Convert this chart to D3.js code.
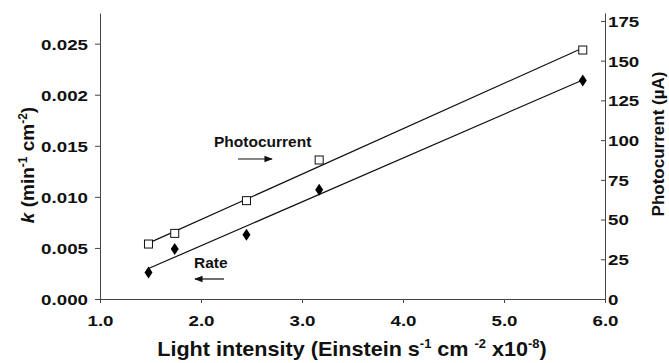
<!DOCTYPE html>
<html>
<head>
<meta charset="utf-8">
<script src="https://cdn.jsdelivr.net/npm/d3@7"></script>
<style>
  body { margin: 0; background: #fff; }
  text { font-family: "Liberation Sans", Arial, sans-serif; font-weight: bold; fill: #111; }
</style>
</head>
<body>
<svg id="chart"></svg>
<script>
// data
var intensity = [1.48, 1.74, 2.45, 3.17, 5.78];
var rate = [0.0026, 0.0049, 0.0063, 0.0107, 0.0214];
var photocurrent = [34.6, 41.3, 61.9, 87.5, 156.7];
var xTicks = [1, 2, 3, 4, 5, 6];
var leftTicks = [0, 0.005, 0.010, 0.015, 0.020, 0.025];
var leftTickLabels = ["0.000", "0.005", "0.010", "0.015", "0.002", "0.025"];
var rightTicks = [0, 25, 50, 75, 100, 125, 150, 175];

var W = 669, H = 363;
var margin = { top: 13, right: 64, bottom: 64, left: 100 },
  width = W - margin.left - margin.right,
  height = H - margin.top - margin.bottom;

// the original figure text is a little stretched sideways
var sx = 1.25;

var svg = d3.select("#chart")
  .attr("width", W)
  .attr("height", H)
  .append("g")
  .attr("transform", "translate(" + margin.left + "," + margin.top + ")");

var x = d3.scaleLinear().domain([1, 6]).range([0, width]);
var yL = d3.scaleLinear().domain([0, 0.028]).range([height, 0]);
var yR = d3.scaleLinear().domain([0, 180]).range([height, 0]);

// axes
var xAxis = svg.append("g")
  .attr("transform", "translate(0," + height + ")")
  .call(d3.axisBottom(x).tickValues(xTicks).tickFormat(d3.format(".1f")).tickSize(4).tickSizeOuter(0));
xAxis.selectAll("text").style("font-size", "15px")
  .attr("y", 27).attr("dy", 0)
  .attr("transform", "scale(" + sx + ",1)");

var leftAxis = svg.append("g")
  .call(d3.axisLeft(yL).tickValues(leftTicks)
    .tickFormat(function (d, i) { return leftTickLabels[i]; })
    .tickSize(5).tickSizeOuter(0));
leftAxis.selectAll("text").style("font-size", "15px")
  .attr("x", -12 / sx).attr("dy", "0.36em")
  .attr("transform", "scale(" + sx + ",1)");

var rightAxis = svg.append("g")
  .attr("transform", "translate(" + width + ",0)")
  .call(d3.axisRight(yR).tickValues(rightTicks).tickSize(0).tickSizeOuter(0));
rightAxis.selectAll(".tick line").attr("x2", -4);
rightAxis.selectAll("text").style("font-size", "15px")
  .attr("x", 3 / sx).attr("dy", "0.36em")
  .attr("transform", "scale(" + sx + ",1)");

svg.selectAll(".domain").attr("stroke", "#444");
svg.selectAll(".tick line").attr("stroke", "#444");

// regression lines
function fit(xs, ys) {
  var mx = d3.mean(xs), my = d3.mean(ys);
  var sxy = d3.sum(xs, function (v, i) { return (v - mx) * (ys[i] - my); });
  var sxx = d3.sum(xs, function (v) { return (v - mx) * (v - mx); });
  var b = sxy / sxx;
  return function (v) { return my + b * (v - mx); };
}
var fR = fit(intensity, rate), fP = fit(intensity, photocurrent);
var ends = [d3.min(intensity), d3.max(intensity)];

svg.append("path")
  .attr("d", d3.line().x(function (d) { return x(d); }).y(function (d) { return yL(fR(d)); })(ends))
  .attr("stroke", "#111").attr("stroke-width", 1.2).attr("fill", "none");
svg.append("path")
  .attr("d", d3.line().x(function (d) { return x(d); }).y(function (d) { return yR(fP(d)); })(ends))
  .attr("stroke", "#111").attr("stroke-width", 1.2).attr("fill", "none");

// points
svg.selectAll(".sq")
  .data(intensity)
  .enter()
  .append("rect")
  .attr("x", function (d) { return x(d) - 4; })
  .attr("y", function (d, i) { return yR(photocurrent[i]) - 4; })
  .attr("width", 8).attr("height", 8)
  .attr("fill", "#fff").attr("stroke", "#111").attr("stroke-width", 1);

svg.selectAll(".dm")
  .data(intensity)
  .enter()
  .append("path")
  .attr("transform", function (d, i) { return "translate(" + x(d) + "," + yL(rate[i]) + ")"; })
  .attr("d", "M0,-6L4,0L0,6L-4,0Z")
  .attr("fill", "#000");

// annotations
var defs = d3.select("#chart").append("defs");
defs.append("marker")
  .attr("id", "ah").attr("viewBox", "0 0 10 10")
  .attr("refX", 9).attr("refY", 5)
  .attr("markerWidth", 7).attr("markerHeight", 7)
  .attr("orient", "auto-start-reverse")
  .append("path").attr("d", "M0,1L10,5L0,9Z").attr("fill", "#111");

var root = d3.select("#chart");
root.append("text").attr("x", 214).attr("y", 147).style("font-size", "15.5px").text("Photocurrent");
root.append("line").attr("x1", 238).attr("x2", 272).attr("y1", 159).attr("y2", 159)
  .attr("stroke", "#111").attr("stroke-width", 1.2).attr("marker-end", "url(#ah)");
root.append("text").attr("x", 194).attr("y", 268).style("font-size", "15.5px").text("Rate");
root.append("line").attr("x1", 224).attr("x2", 195).attr("y1", 279).attr("y2", 279)
  .attr("stroke", "#111").attr("stroke-width", 1.2).attr("marker-end", "url(#ah)");

// axis titles
var xt = root.append("text")
  .attr("transform", "translate(352,356) scale(1.08,1)")
  .attr("text-anchor", "middle").style("font-size", "20px");
xt.append("tspan").text("Light intensity (Einstein s");
xt.append("tspan").attr("dy", -8).style("font-size", "12px").text("-1");
xt.append("tspan").attr("dy", 8).text(" cm ");
xt.append("tspan").attr("dy", -8).style("font-size", "12px").text("-2");
xt.append("tspan").attr("dy", 8).text(" x10");
xt.append("tspan").attr("dy", -8).style("font-size", "12px").text("-8");
xt.append("tspan").attr("dy", 8).text(")");

var lt = root.append("text")
  .attr("transform", "translate(34,165) rotate(-90)")
  .attr("text-anchor", "middle").style("font-size", "19px");
lt.append("tspan").style("font-style", "italic").text("k");
lt.append("tspan").text("  (min");
lt.append("tspan").attr("dy", -7).style("font-size", "12px").text("-1");
lt.append("tspan").attr("dy", 7).text(" cm");
lt.append("tspan").attr("dy", -7).style("font-size", "12px").text("-2");
lt.append("tspan").attr("dy", 7).text(")");

root.append("text")
  .attr("transform", "translate(664,144) rotate(-90)")
  .attr("text-anchor", "middle").style("font-size", "17px")
  .text("Photocurrent (\u00b5A)");
</script>
</body>
</html>
